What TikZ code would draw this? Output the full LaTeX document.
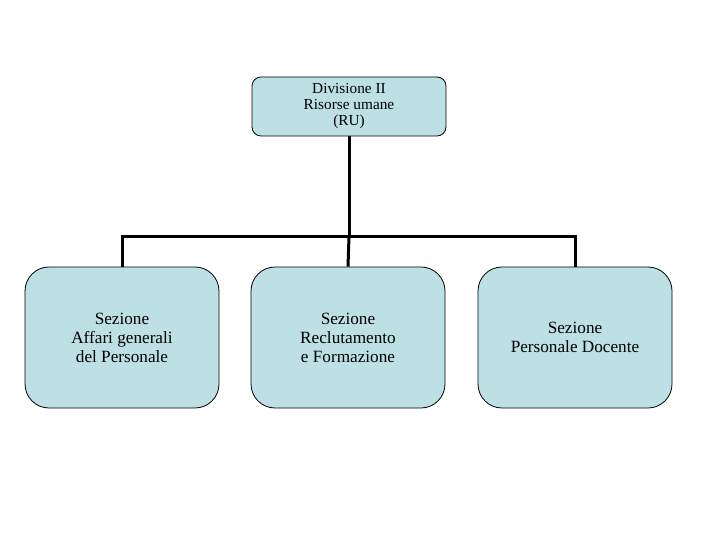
\documentclass[tikz,border=0pt]{standalone}
\usepackage{fontspec}
\setmainfont{Liberation Serif}
\usepackage{tikz}
\usetikzlibrary{calc,positioning}
\definecolor{boxfill}{RGB}{189,224,228}

\begin{document}
\begin{tikzpicture}[x=1pt, y=-1pt,
    unit/.style={draw=black, fill=boxfill, line width=0.8pt, align=center,
      inner sep=0pt},
    link/.style={line width=3pt}]
  \useasboundingbox (0,0) rectangle (720,540);
  % Division
  \node[unit, rounded corners=9pt, minimum width=194pt, minimum height=59pt,
    font=\fontsize{15.3}{16}\selectfont] (div) at (349,106.5)
    {Divisione II\\Risorse umane\\(RU)};
  % Sections
  \begin{scope}[every node/.append style={unit, rounded corners=24pt,
      minimum width=194pt, minimum height=141pt,
      font=\fontsize{17.2}{19}\selectfont}]
    \node (sezA) at (122,337.5) {Sezione\\Affari generali\\ del Personale};
    \node (sezB) at (348,337.5) {Sezione\\Reclutamento\\e Formazione};
    \node (sezC) at (575,337.5) {Sezione\\Personale Docente};
  \end{scope}
  % Connectors
  \coordinate (bus) at (349,236);
  \draw[link] (div.south) -- (bus);
  \draw[link] (sezA.north) |- (bus) -| (sezC.north);
  \draw[link] (bus) -- (sezB.north);
\end{tikzpicture}
\end{document}
